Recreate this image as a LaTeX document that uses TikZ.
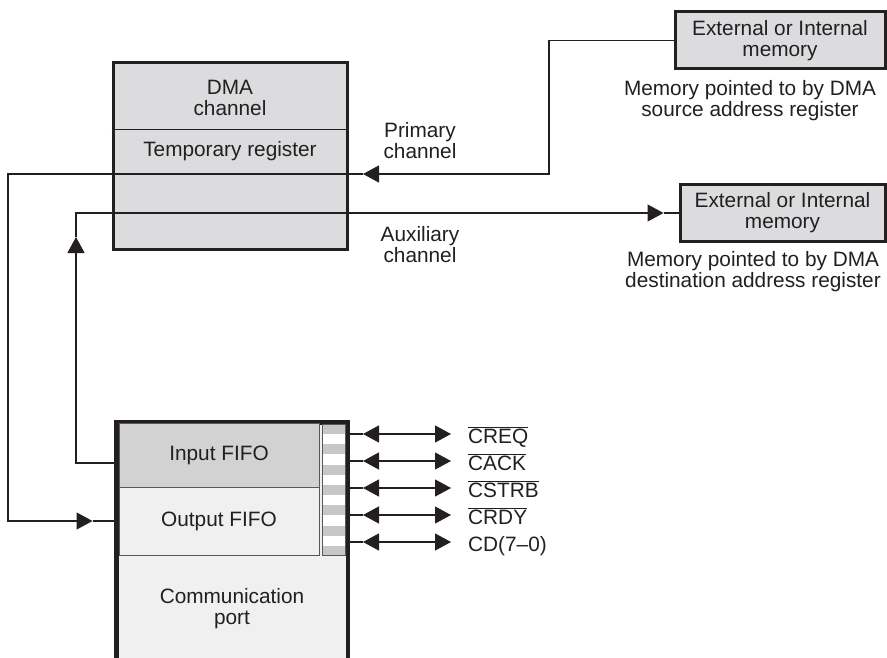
\documentclass[tikz,border=0pt]{standalone}
\usepackage{fontspec}
\setmainfont{Liberation Sans}
\usepackage{xcolor}
\usepackage{tikz}
\usetikzlibrary{positioning,arrows.meta,calc}
\definecolor{dmaink}{HTML}{231F20}
\definecolor{dmagray}{HTML}{DCDCDE}
\definecolor{fifogray}{HTML}{D2D2D3}
\definecolor{portgray}{HTML}{F0F0F1}
\definecolor{stripegray}{HTML}{C6C7C8}
\newcommand{\actlow}[1]{$\overline{\mbox{#1}}$}

\begin{document}
\begin{tikzpicture}[
  x=1pt, y=-1pt,
  font=\fontsize{20.8}{21}\selectfont,
  text=dmaink,
  wire/.style={draw=dmaink, line width=1.2pt},
  headed/.style={-{Triangle[length=16pt, width=17pt]}},
  twohead/.style={{Triangle[length=16pt, width=17pt]}-{Triangle[length=16pt, width=17pt]}},
  heavybox/.style={draw=dmaink, line width=3pt, fill=dmagray, inner sep=0pt, align=center},
  fifobox/.style={draw=dmaink!75, line width=1pt, minimum width=200pt, inner sep=0pt},
  note/.style={align=center},
  ]
  \useasboundingbox (0,0) rectangle (887,658);
  \clip (0,0) rectangle (887,658);

  \node[heavybox, minimum width=234pt, minimum height=186pt] (dma) at (230,156) {};
  \draw[draw=dmaink, line width=1pt] (dma.west |- 0,130) -- (dma.east |- 0,130);
  \node[note] (dmatitle) at (230,97.5) {DMA\\channel};
  \node[anchor=base] (tmpreg) at (230,157) {Temporary register};

  \node[heavybox, minimum width=210pt, minimum height=57pt] (srcmem) at (780,40.5) {External or Internal\\memory};
  \node[heavybox, minimum width=205pt, minimum height=56pt] (dstmem) at (782.5,213) {External or Internal\\memory};
  \node[note] (srcnote) at (750,100.5) {Memory pointed to by DMA\\source address register};
  \node[note] (dstnote) at (753,272) {Memory pointed to by DMA\\destination address register};
  \node[note] (primlbl) at (420,141) {Primary\\channel};
  \node[note] (auxlbl) at (420,245) {Auxiliary\\channel};

  \node[heavybox, fill=portgray, minimum width=230pt, minimum height=260pt] (port) at (232,553) {};
  \node[fifobox, fill=fifogray, minimum height=64pt] (infifo) at (219,455) {Input FIFO};
  \node[fifobox, fill=portgray, minimum height=68pt] (outfifo) at (219,521) {Output FIFO};
  \node[draw=dmaink!75, line width=1pt, fill=white, minimum width=23pt, minimum height=131pt, inner sep=0pt,
    path picture={\foreach \k in {0,...,6}
      \fill[stripegray] ($(path picture bounding box.north west)+(0,\k*20.3)$) rectangle ++(23,10.1);}]
    (strip) at (333.5,489.5) {};
  \draw[draw=dmaink, line width=3pt] (port.south west) -- (port.north west) -- (port.north east) -- (port.south east);
  \node[note] (porttext) at (232,608.5) {Communication\\port};

  \coordinate (pbend) at (549,174);
  \coordinate (ptip) at (363,174);
  \coordinate (lbend) at (8,174);
  \coordinate (otip) at ($(outfifo.west)+(-26,0)$);
  \draw[wire, headed] (srcmem.west) -| (pbend) -- (ptip);
  \draw[wire, headed] (ptip) -- (lbend) |- (otip);
  \draw[wire] (otip) -- (outfifo.west);

  \coordinate (ain) at ($(infifo.west)+(0,8)$);
  \coordinate (atip) at (76,237);
  \coordinate (mtip) at ($(dstmem.west)+(-15,0)$);
  \draw[wire, headed] (ain) -| (atip);
  \draw[wire, headed] (atip) |- (mtip);
  \draw[wire] (mtip) -- (dstmem.west);

  \foreach \lbl [count=\k from 0] in {\actlow{CREQ}, \actlow{CACK}, \actlow{CSTRB}, \actlow{CRDY}, CD(7--0)} {
    \coordinate (sl\k) at (363,434+27*\k);
    \coordinate (sr\k) at (451,434+27*\k);
    \draw[wire] (port.east |- sl\k) -- (sl\k);
    \draw[wire, twohead] (sl\k) -- (sr\k);
    \node[anchor=base west, inner sep=0pt] (sig\k) at ($(sr\k)+(17,9)$) {\lbl};
  }
\end{tikzpicture}
\end{document}
